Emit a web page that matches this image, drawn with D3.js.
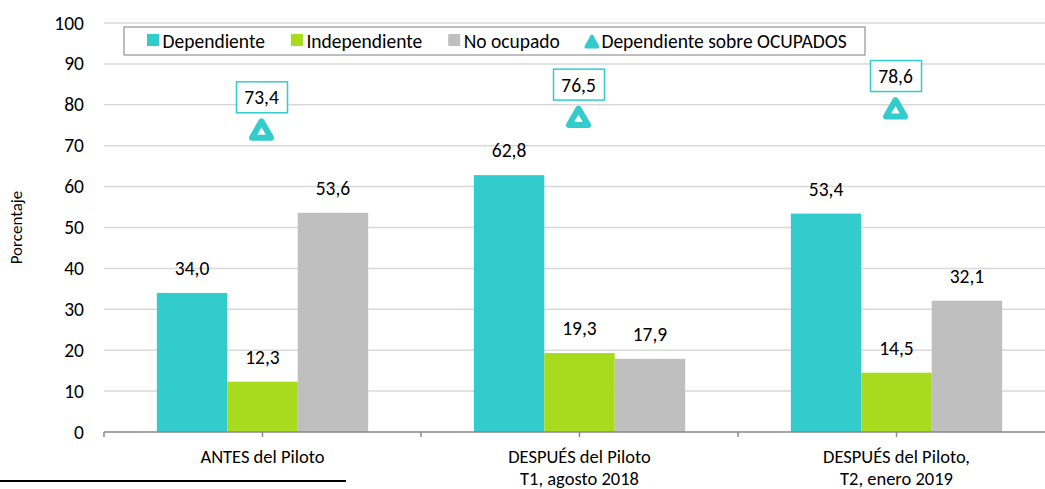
<!DOCTYPE html>
<html>
<head>
<meta charset="utf-8">
<script src="https://cdn.jsdelivr.net/npm/d3@7"></script>
<style>
  body { margin: 0; background: #fff; }
  text { font-family: Carlito, "Liberation Sans", Arial, sans-serif; fill: #000; }
</style>
</head>
<body>
<div id="chart"></div>
<script>
// data
let categories = [["ANTES del Piloto"],
                  ["DESPUÉS del Piloto", "T1, agosto 2018"],
                  ["DESPUÉS del Piloto,", "T2, enero 2019"]];
let series = ["Dependiente", "Independiente", "No ocupado"];
let dependiente   = [34.0, 62.8, 53.4];
let independiente = [12.3, 19.3, 14.5];
let noOcupado     = [53.6, 17.9, 32.1];
let depSobreOcupados = [73.4, 76.5, 78.6];
let yTicks = [0, 10, 20, 30, 40, 50, 60, 70, 80, 90, 100];

let colors = ["#33CCCC", "#A8DA1D", "#BFBFBF"];
let teal = "#33CCCC";

let width = 1045, height = 489;
let plotLeft = 104, plotRight = 1055, plotTop = 23, plotBottom = 432;
let fs = 19.5;

let svg = d3.select("#chart").append("svg")
  .attr("width", width).attr("height", height);

let fmt = v => v.toFixed(1).replace(".", ",");

let yScale = d3.scaleLinear().domain([0, 100]).range([plotBottom, plotTop]);
let x0 = d3.scaleBand().domain(d3.range(categories.length))
  .range([plotLeft, plotRight]).paddingInner(1/3).paddingOuter(1/6);
let x1 = d3.scaleBand().domain(d3.range(series.length)).range([0, x0.bandwidth()]);

// gridlines
svg.append("g").selectAll("line")
  .data(yTicks.filter(t => t > 0))
  .enter().append("line")
  .attr("x1", plotLeft).attr("x2", width)
  .attr("y1", d => yScale(d)).attr("y2", d => yScale(d))
  .attr("stroke", "#D9D9D9").attr("stroke-width", 1.5);

// y tick labels
svg.append("g").selectAll("text")
  .data(yTicks).enter().append("text")
  .attr("x", 84).attr("y", d => yScale(d) + 6.5)
  .attr("text-anchor", "end").attr("font-size", fs)
  .text(d => d);

svg.append("text")
  .attr("transform", "translate(22," + ((plotTop + plotBottom) / 2) + ") rotate(-90)")
  .attr("text-anchor", "middle").attr("font-size", 17)
  .text("Porcentaje");

// bars
let rows = d3.range(categories.length).map(i => [dependiente[i], independiente[i], noOcupado[i]]);

let groups = svg.append("g").selectAll("g")
  .data(rows).enter().append("g")
  .attr("transform", (d, i) => "translate(" + x0(i) + ",0)");

groups.selectAll("rect")
  .data(d => d).enter().append("rect")
  .attr("x", (d, j) => x1(j))
  .attr("y", d => yScale(d))
  .attr("width", x1.bandwidth())
  .attr("height", d => plotBottom - yScale(d))
  .attr("fill", (d, j) => colors[j]);

groups.selectAll("text")
  .data(d => d).enter().append("text")
  .attr("x", (d, j) => x1(j) + x1.bandwidth() / 2)
  .attr("y", d => yScale(d) - 18)
  .attr("text-anchor", "middle").attr("font-size", fs)
  .text(d => fmt(d));

// x axis
svg.append("line")
  .attr("x1", plotLeft).attr("x2", width)
  .attr("y1", plotBottom).attr("y2", plotBottom)
  .attr("stroke", "#898989").attr("stroke-width", 1.5);

let step = x0.step();
let tickPos = d3.range(0, categories.length * 2 + 1).map(k => plotLeft + k * step / 2);
svg.append("g").selectAll("line")
  .data(tickPos).enter().append("line")
  .attr("x1", d => d).attr("x2", d => d)
  .attr("y1", plotBottom).attr("y2", plotBottom + 5)
  .attr("stroke", "#898989").attr("stroke-width", 1.5);

// category labels, one text per line
let catLines = [];
categories.forEach((lines, i) => lines.forEach((s, k) => catLines.push({ i: i, k: k, s: s })));
svg.append("g").selectAll("text")
  .data(catLines).enter().append("text")
  .attr("x", d => x0(d.i) + x0.bandwidth() / 2)
  .attr("y", d => 463 + d.k * 21.5)
  .attr("text-anchor", "middle").attr("font-size", 18.5)
  .text(d => d.s);

// triangle markers with boxed labels
let triPath = "M0,-10.5 L9.5,6 L-9.5,6 Z";
let markers = svg.append("g").selectAll("g")
  .data(depSobreOcupados).enter().append("g")
  .attr("transform", (d, i) => "translate(" + (x0(i) + x0.bandwidth() / 2 - 1) + "," + yScale(d) + ")");

markers.append("path")
  .attr("d", triPath)
  .attr("fill", "#fff").attr("stroke", teal)
  .attr("stroke-width", 6).attr("stroke-linejoin", "round");

markers.append("rect")
  .attr("x", -25).attr("y", -50)
  .attr("width", 51).attr("height", 31)
  .attr("fill", "#fff").attr("stroke", teal).attr("stroke-width", 1.5);

markers.append("text")
  .attr("x", 0).attr("y", -27.5)
  .attr("text-anchor", "middle").attr("font-size", fs)
  .text(d => fmt(d));

// legend
let legend = svg.append("g");
legend.append("rect")
  .attr("x", 124).attr("y", 27).attr("width", 741).attr("height", 28)
  .attr("fill", "#fff").attr("stroke", "#7F7F7F").attr("stroke-width", 1);

let legendItems = series.concat(["Dependiente sobre OCUPADOS"]);
let lx = 147;
legendItems.forEach((name, j) => {
  if (j < 3) {
    legend.append("rect")
      .attr("x", lx).attr("y", 34).attr("width", 12).attr("height", 12)
      .attr("fill", colors[j]);
  } else {
    legend.append("path")
      .attr("d", "M0,-7 L6,4 L-6,4 Z")
      .attr("transform", "translate(" + (lx + 6) + ",43)")
      .attr("fill", teal).attr("stroke", teal)
      .attr("stroke-width", 3).attr("stroke-linejoin", "round");
  }
  let t = legend.append("text")
    .attr("x", lx + 15.5).attr("y", 47.5)
    .attr("font-size", fs).text(name);
  lx += 15.5 + t.node().getComputedTextLength() + 26;
});

// footnote rule
svg.append("line")
  .attr("x1", 0).attr("x2", 346)
  .attr("y1", 481).attr("y2", 481)
  .attr("stroke", "#000").attr("stroke-width", 2);
</script>
</body>
</html>
